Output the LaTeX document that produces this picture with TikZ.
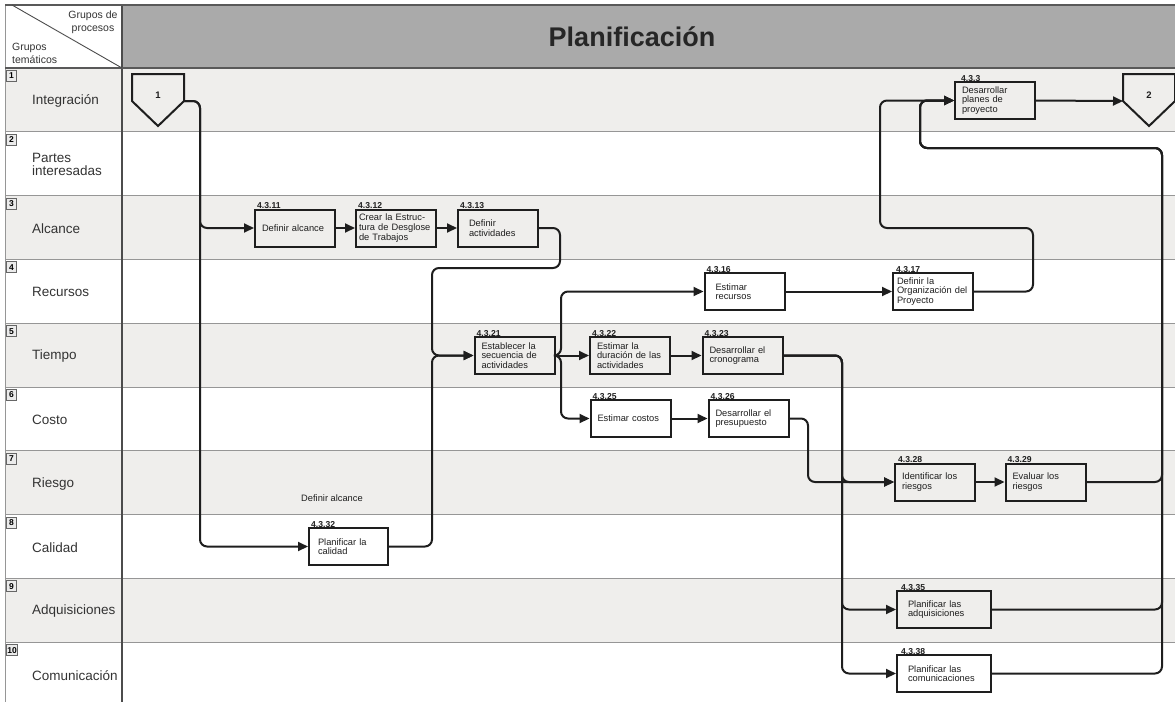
\documentclass[tikz,border=0pt]{standalone}
\usepackage{fontspec}
\setmainfont{Liberation Sans}
\usetikzlibrary{arrows.meta,calc}
\definecolor{rowgray}{RGB}{239,238,236}
\definecolor{headgray}{RGB}{170,170,170}
\definecolor{ink}{RGB}{30,30,30}
\definecolor{rulegray}{RGB}{150,150,150}
\newcommand{\boxfont}{\fontsize{9.3}{9.6}\selectfont}

\begin{document}
\begin{tikzpicture}[x=1pt,y=-1pt,
  box/.style={draw=ink, line width=2pt, font=\boxfont, align=left,
    inner xsep=7pt, inner ysep=1pt, text width=66pt, minimum height=37pt, text=ink},
  num/.style={font=\bfseries\fontsize{8.6}{8.6}\selectfont, inner sep=0pt, anchor=south west, text=ink},
  flow/.style={draw=ink, line width=2pt, rounded corners=7pt},
  arr/.style={flow, -{Triangle[length=10pt,width=9pt]}},
  lane/.style={font=\fontsize{13.5}{13}\selectfont, align=left, anchor=west, inner sep=0pt, text=black!80},
  rowno/.style={draw=black!60, fill=black!8, font=\bfseries\fontsize{8.5}{9}\selectfont,
    inner sep=1pt, minimum width=10pt, minimum height=11pt, line width=0.9pt, anchor=north west},
  pentbox/.style={draw=none, minimum width=52pt, minimum height=52pt, inner sep=0pt, outer sep=0pt},
  pentline/.style={draw=ink, line width=2pt, line join=miter},
  rowline/.style={draw=rulegray, line width=0.9pt}
]
\useasboundingbox (0,0) rectangle (1175,702);

% lane backgrounds
\foreach \i in {0,2,4,6,8}
  \fill[rowgray] (5,{68+63.8*\i}) rectangle (1175,{68+63.8*(\i+1)});
\fill[headgray] (122,5) rectangle (1175,68);

% grid
\foreach \i in {1,...,9}
  \draw[rowline] (5,{68+63.8*\i}) -- (1175,{68+63.8*\i});
\draw[rowline] (5,5) -- (5,702);
\draw[black!70, line width=1.1pt] (122,5) -- (122,702);
\draw[black!65, line width=1.1pt] (5,5) -- (1175,5);
\draw[black!65, line width=1.4pt] (5,68) -- (1175,68);
\draw[black!70, line width=0.9pt] (12,5) -- (122,68);

% header texts
\node[font=\fontsize{10.5}{13}\selectfont, align=center, text=black!80] (gp) at (93,22.5) {Grupos de\\procesos};
\node[font=\fontsize{10.5}{13}\selectfont, align=left, anchor=west, inner sep=0pt, text=black!80] (gt) at (12,53.5) {Grupos\\temáticos};
\node[font=\bfseries\fontsize{27}{30}\selectfont, text=black!85] (title) at (632,37) {Planificación};

% lane labels and numbers
\foreach \i/\txt in {1/Integración,2/{Partes\\interesadas},3/Alcance,4/Recursos,5/Tiempo,6/Costo,7/Riesgo,8/Calidad,9/Adquisiciones,10/Comunicación} {
  \node[lane] (lane\i) at (32,{68+63.8*(\i-1)+33}) {\txt};
  \node[rowno] (no\i) at (6,{68+63.8*(\i-1)+2}) {\i};
}

% start and end connectors
\node[pentbox] (p1) at (158,100) {};
\coordinate (p1r) at ($(p1.north east)!0.52!(p1.south east)$);
\coordinate (p1l) at ($(p1.north west)!0.52!(p1.south west)$);
\draw[pentline] (p1.north west) -- (p1.north east) -- (p1r) -- (p1.south) -- (p1l) -- cycle;
\node[font=\bfseries\fontsize{9.5}{9.5}\selectfont, text=ink] (p1t) at ([yshift=5pt]p1.center) {1};

\node[pentbox] (p2) at (1149,100) {};
\coordinate (p2r) at ($(p2.north east)!0.52!(p2.south east)$);
\coordinate (p2l) at ($(p2.north west)!0.52!(p2.south west)$);
\draw[pentline] (p2.north west) -- (p2.north east) -- (p2r) -- (p2.south) -- (p2l) -- cycle;
\node[font=\bfseries\fontsize{9.5}{9.5}\selectfont, text=ink] (p2t) at ([yshift=5pt]p2.center) {2};

% processes
\node[box] (n11) at (295,228) {Definir alcance};
\node[box, inner xsep=3pt, text width=74pt] (n12) at (396,228) {Crear la Estruc-\\tura de Desglose\\de Trabajos};
\node[box, inner xsep=11pt, text width=58pt] (n13) at (498,228) {Definir\\actividades};
\node[box, inner xsep=11pt, text width=58pt] (n16) at (744.5,291.5) {Estimar\\recursos};
\node[box, inner xsep=4pt, text width=72pt] (n17) at (933,291.5) {Definir la\\Organización del\\Proyecto};
\node[box] (n21) at (514.5,355.5) {Establecer la\\secuencia de\\actividades};
\node[box] (n22) at (630,355.5) {Estimar la\\duración de las\\actividades};
\node[box] (n23) at (742.5,355.5) {Desarrollar el\\cronograma};
\node[box] (n25) at (630.5,418.5) {Estimar costos};
\node[box] (n26) at (748.5,418.5) {Desarrollar el\\presupuesto};
\node[box] (n28) at (935,482) {Identificar los\\riesgos};
\node[box] (n29) at (1045.5,482) {Evaluar los\\riesgos};
\node[box, inner xsep=9pt, text width=61pt] (n32) at (348.5,546.5) {Planificar la\\calidad};
\node[box, inner xsep=11pt, text width=72pt] (n35) at (944,609.5) {Planificar las\\adquisiciones};
\node[box, inner xsep=11pt, text width=72pt] (n38) at (944,673.5) {Planificar las\\comunicaciones};
\node[box] (n3) at (995,100.5) {Desarrollar\\planes de\\proyecto};

% process numbers
\node[num] (c11) at ([xshift=3pt,yshift=-0.5pt]n11.north west) {4.3.11};
\node[num] (c12) at ([xshift=3pt,yshift=-0.5pt]n12.north west) {4.3.12};
\node[num] (c13) at ([xshift=3pt,yshift=-0.5pt]n13.north west) {4.3.13};
\node[num] (c16) at ([xshift=3pt,yshift=-0.5pt]n16.north west) {4.3.16};
\node[num] (c17) at ([xshift=4pt,yshift=-0.5pt]n17.north west) {4.3.17};
\node[num] (c21) at ([xshift=3pt,yshift=-0.5pt]n21.north west) {4.3.21};
\node[num] (c22) at ([xshift=3pt,yshift=-0.5pt]n22.north west) {4.3.22};
\node[num] (c23) at ([xshift=3pt,yshift=-0.5pt]n23.north west) {4.3.23};
\node[num] (c25) at ([xshift=3pt,yshift=-0.5pt]n25.north west) {4.3.25};
\node[num] (c26) at ([xshift=3pt,yshift=-0.5pt]n26.north west) {4.3.26};
\node[num] (c28) at ([xshift=4pt,yshift=-0.5pt]n28.north west) {4.3.28};
\node[num] (c29) at ([xshift=3pt,yshift=-0.5pt]n29.north west) {4.3.29};
\node[num] (c32) at ([xshift=3pt,yshift=-0.5pt]n32.north west) {4.3.32};
\node[num] (c35) at ([xshift=5pt,yshift=-0.5pt]n35.north west) {4.3.35};
\node[num] (c38) at ([xshift=5pt,yshift=-0.5pt]n38.north west) {4.3.38};
\node[num] (c3) at ([xshift=7pt,yshift=-0.5pt]n3.north west) {4.3.3};

\node[font=\fontsize{9.3}{9.3}\selectfont, text=ink] (note) at (332,498) {Definir alcance};

% flows
\draw[arr] (p1r) -- (200,101) |- (n11.west);
\draw[arr] (p1r) -- (200,101) |- (n32.west);
\draw[arr] (n11.east) -- (n12.west);
\draw[arr] (n12.east) -- (n13.west);
\draw[arr] (n13.east) -- (560,228) -- (560,268) -- (432,268) |- (n21.west);
\draw[arr] (n32.east) -- (432,546.5) |- (n21.west);
\draw[arr] (n21.east) -- (n22.west);
\draw[arr] (n21.east) -- (561,355.5) |- (n16.west);
\draw[arr] (n21.east) -- (561,355.5) |- (n25.west);
\draw[arr] (n22.east) -- (n23.west);
\draw[arr] (n25.east) -- (n26.west);
\draw[arr] (n16.east) -- (n17.west);
\draw[arr] (n17.east) -- (1033,291.5) -- (1033,228) -- (880,228) |- (n3.west);
\draw[arr] (n23.east) -- (842,355.5) |- (n28.west);
\draw[arr] (n23.east) -- (842,355.5) |- (n35.west);
\draw[arr] (n23.east) -- (842,355.5) |- (n38.west);
\draw[arr] (n26.east) -- (808,418.5) |- (n28.west);
\draw[arr] (n28.east) -- (n29.west);
\draw[arr] (n29.east) -- (1162,482) -- (1162,148) -- (920,148) |- (n3.west);
\draw[arr] (n35.east) -- (1162,609.5) -- (1162,148) -- (920,148) |- (n3.west);
\draw[arr] (n38.east) -- (1162,673.5) -- (1162,148) -- (920,148) |- (n3.west);
\draw[arr] (n3.east) -- (p2l);
\end{tikzpicture}
\end{document}
